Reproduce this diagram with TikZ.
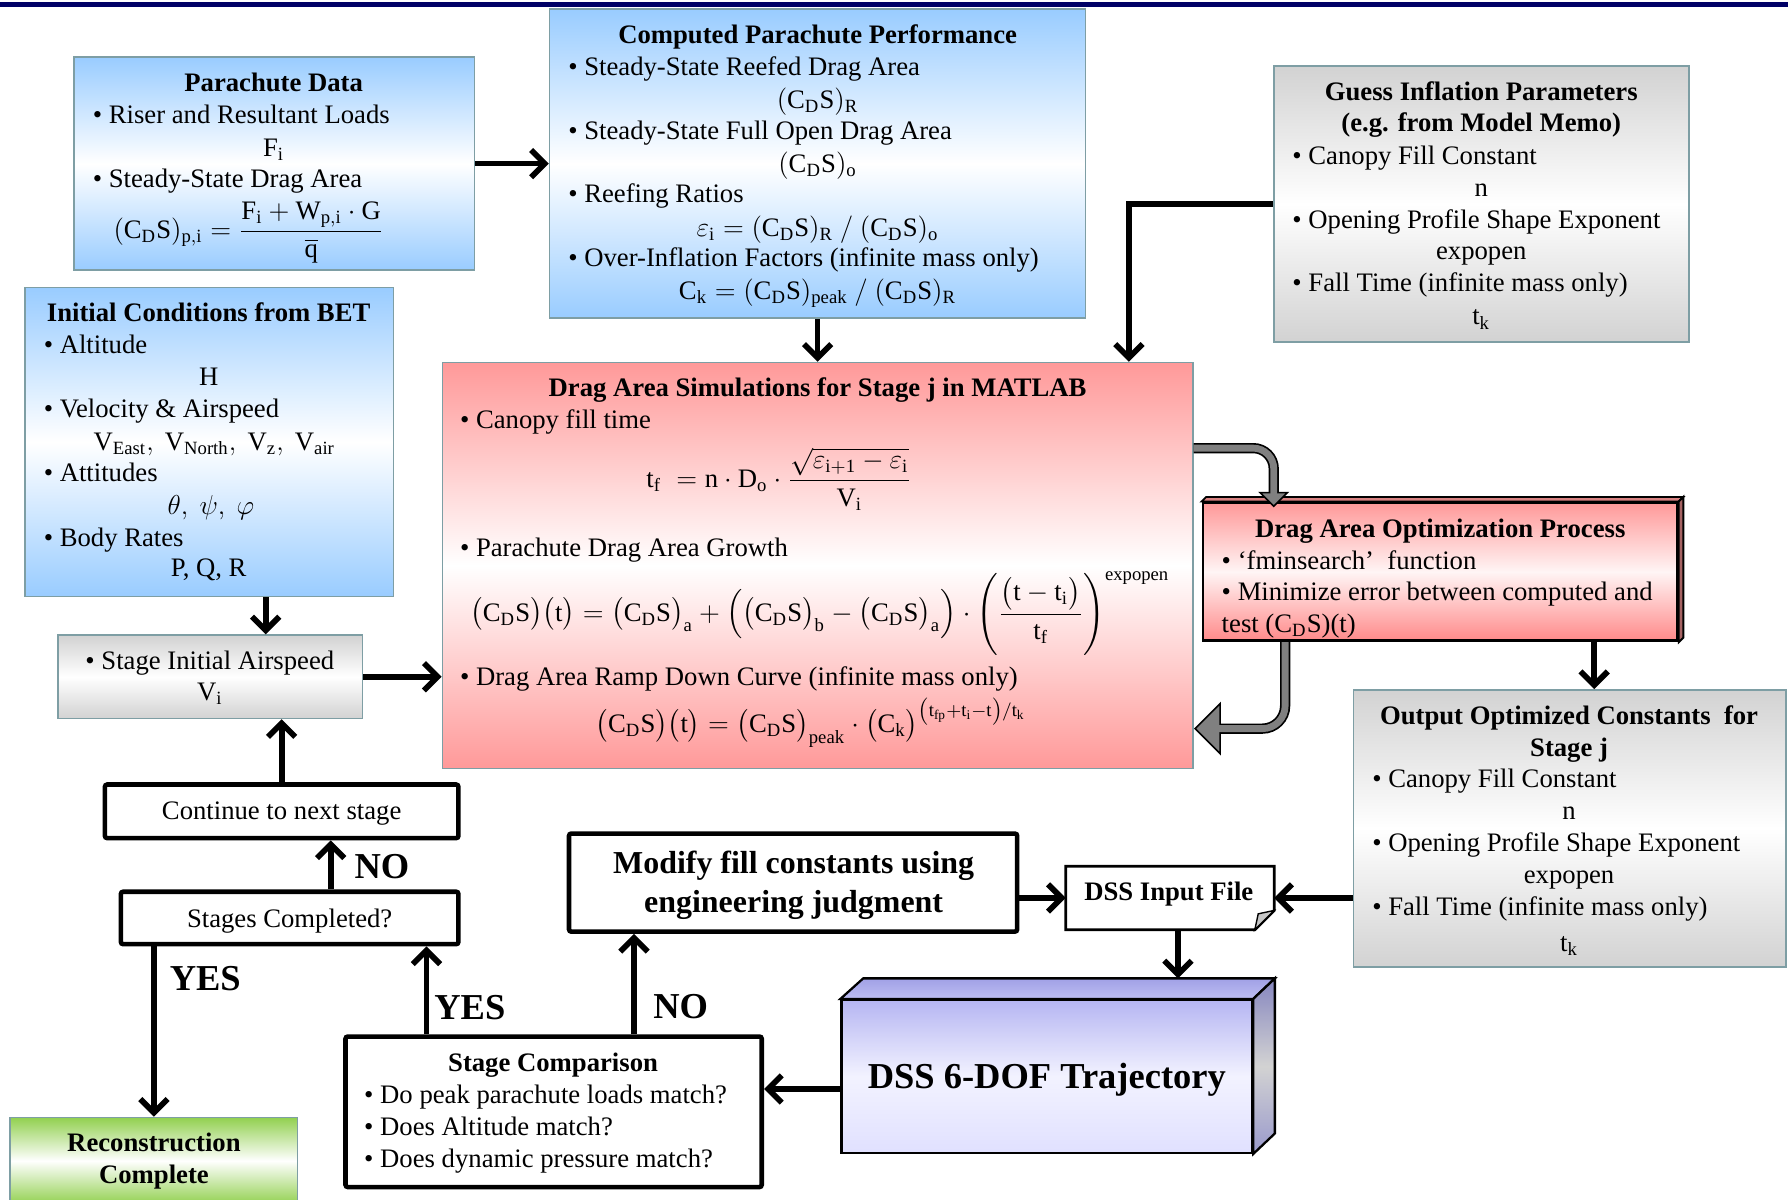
\documentclass[tikz,border=0pt]{standalone}
\usepackage{amsmath}
\usepackage{fontspec}
\setmainfont{Liberation Serif}
\usetikzlibrary{arrows.meta,fit,calc}
\definecolor{navy}{HTML}{000066}
\definecolor{bluef}{HTML}{99CCFF}
\definecolor{grayf}{HTML}{D2D2D2}
\definecolor{redf}{HTML}{FF9999}
\definecolor{greenf}{HTML}{92D050}
\definecolor{edgec}{HTML}{7E9EA4}
\definecolor{blockg}{HTML}{808080}
\newcommand\fs{\fontsize{11.7}{14}\selectfont}
\newcommand\fsbig{\fontsize{14}{17}\selectfont}
\newcommand\fshuge{\fontsize{16}{19}\selectfont}
\newcommand\CDS{(\mathrm{C_DS})}
\newcommand\bCDS{\bigl(\mathrm{C_DS}\bigr)}
\tikzset{
  panel/.style={inner sep=0pt, draw=edgec, line width=0.7pt},
  bluebox/.style={panel, top color=bluef, bottom color=bluef, middle color=white},
  graybox/.style={panel, top color=grayf, bottom color=grayf, middle color=white},
  redbox/.style={panel, top color=redf, bottom color=redf, middle color=white},
  greenbox/.style={panel, top color=greenf, bottom color=greenf, middle color=white},
  whitebox/.style={inner sep=0pt, draw=black, line width=2pt, fill=white, rounded corners=1pt},
  tl/.style={anchor=base west, inner sep=0pt, font=\fs},
  tc/.style={anchor=base, inner sep=0pt, font=\fs},
  th/.style={anchor=base, inner sep=0pt, font=\fs\bfseries},
  fm/.style={anchor=center, inner sep=0pt, font=\fs},
  arr/.style={line width=2.5pt, -{Straight Barb[length=6pt,width=12pt]}},
  lbl/.style={font=\fshuge\bfseries, inner sep=0pt},
}
\begin{document}
\begin{tikzpicture}[x=0.5pt,y=-0.5pt]
\useasboundingbox (0,0) rectangle (1568,1052);
\fill[navy] (0,1.5) rectangle (1568,6);

% ---------- Parachute Data
\node[bluebox, fit={(65,50)(416,237)}] (pd) {};
\node[th] (pdT) at (240,80) {Parachute Data};
\node[tl] (pd1) at (81,108) {•~Riser and Resultant Loads};
\node[tc] (pd2) at (240,137) {$\mathrm{F_i}$};
\node[tl] (pd3) at (81,164) {•~Steady-State Drag Area};
\node[fm] (pd4) at (218,204) {$\CDS_{\mathrm{p,i}} = \dfrac{\mathrm{F_i} + \mathrm{W_{p,i}}\cdot\mathrm{G}}{\overline{\mathrm{q}}}$};

% ---------- Computed Parachute Performance
\node[bluebox, fit={(482,8)(952,279)}] (cpp) {};
\node[th] (cppT) at (717,38) {Computed Parachute Performance};
\node[tl] (cpp1) at (498,66) {•~Steady-State Reefed Drag Area};
\node[tc] (cpp2) at (717,95) {$\CDS_{\mathrm{R}}$};
\node[tl] (cpp3) at (498,122) {•~Steady-State Full Open Drag Area};
\node[tc] (cpp4) at (717,151) {$\CDS_{\mathrm{o}}$};
\node[tl] (cpp5) at (498,178) {•~Reefing Ratios};
\node[tc] (cpp6) at (717,207) {$\varepsilon_{\mathrm{i}} = \CDS_{\mathrm{R}}\ /\ \CDS_{\mathrm{o}}$};
\node[tl] (cpp7) at (498,234) {•~Over-Inflation Factors (infinite mass only)};
\node[tc] (cpp8) at (717,263) {$\mathrm{C_k} = \CDS_{\mathrm{peak}}\ /\ \CDS_{\mathrm{R}}$};

% ---------- Guess Inflation Parameters
\node[graybox, fit={(1117,58)(1481,300)}] (guess) {};
\node[th] (gT1) at (1299,88) {Guess Inflation Parameters};
\node[th] (gT2) at (1299,115) {(e.g. from Model Memo)};
\node[tl] (g1) at (1133,144) {•~Canopy Fill Constant};
\node[tc] (g2) at (1299,172) {n};
\node[tl] (g3) at (1133,200) {•~Opening Profile Shape Exponent};
\node[tc] (g4) at (1299,228) {expopen};
\node[tl] (g5) at (1133,256) {•~Fall Time (infinite mass only)};
\node[tc] (g6) at (1299,285) {$\mathrm{t_k}$};

% ---------- Initial Conditions from BET
\node[bluebox, fit={(22,252)(345,523)}] (ic) {};
\node[th] (icT) at (183,282) {Initial Conditions from BET};
\node[tl] (ic1) at (38,310) {•~Altitude};
\node[tc] (ic2) at (183,338) {H};
\node[tl] (ic3) at (38,366) {•~Velocity \& Airspeed};
\node[tc] (ic4) at (188,395) {$\mathrm{V_{East},\ V_{North},\ V_z,\ V_{air}}$};
\node[tl] (ic5) at (38,422) {•~Attitudes};
\node[tc] (ic6) at (185,451) {$\theta,\ \psi,\ \varphi$};
\node[tl] (ic7) at (38,479) {•~Body Rates};
\node[tc] (ic8) at (183,506) {P, Q, R};

% ---------- Stage Initial Airspeed
\node[graybox, fit={(51,557)(318,630)}] (sia) {};
\node[tc] (sia1) at (184,587) {•~Stage Initial Airspeed};
\node[tc] (sia2) at (184,614) {$\mathrm{V_i}$};

% ---------- Drag Area Simulations
\node[redbox, fit={(388,318)(1046,674)}] (ds) {};
\node[th] (dsT) at (717,348) {Drag Area Simulations for Stage j in MATLAB};
\node[tl] (ds1) at (403,376) {•~Canopy fill time};
\node[fm] (ds2) at (683,420) {$\mathrm{t_f} \;= \mathrm{n}\cdot\mathrm{D_o}\cdot\dfrac{\sqrt{\varepsilon_{\mathrm{i+1}}-\varepsilon_{\mathrm{i}}}}{\mathrm{V_i}}$};
\node[tl] (ds3) at (403,488) {•~Parachute Drag Area Growth};
\node[fm] (ds4) at (719,538) {$\bCDS\bigl(\mathrm{t}\bigr)= \bCDS_{\mathrm{a}} + \Bigl(\bCDS_{\mathrm{b}} - \bCDS_{\mathrm{a}}\Bigr)\cdot\left(\dfrac{\bigl(\mathrm{t}-\mathrm{t_i}\bigr)}{\mathrm{t_f}}\right)^{\mathrm{expopen}}$};
\node[tl] (ds5) at (403,601) {•~Drag Area Ramp Down Curve (infinite mass only)};
\node[fm] (ds6) at (711,634) {$\bCDS\bigl(\mathrm{t}\bigr)= \bCDS_{\mathrm{peak}}\cdot\bigl(\mathrm{C_k}\bigr)^{\left(\mathrm{t_{fp}}+\mathrm{t_i}-\mathrm{t}\right)/\mathrm{t_k}}$};

% ---------- Drag Area Optimization Process
\node[inner sep=0pt, draw=black, line width=1.2pt, top color=redf, bottom color=redf!90!red, middle color=red!4, fit={(1055,441)(1471,562)}] (opt) {};
\filldraw[fill=redf!85!black, draw=black, line width=0.8pt] (opt.north west) -- ++(4,-4) -- ($(opt.north east)+(4,-4)$) -- (opt.north east) -- cycle;
\filldraw[fill=redf!65!black, draw=black, line width=0.8pt] (opt.north east) -- ++(4,-4) -- ($(opt.south east)+(4,-4)$) -- (opt.south east) -- cycle;
\node[th] (optT) at (1263,471) {Drag Area Optimization Process};
\node[tl] (opt1) at (1071,499) {•~‘fminsearch’~ function};
\node[tl] (opt2) at (1071,527) {•~Minimize error between computed and};
\node[tl] (opt3) at (1071,555) {test (C\textsubscript{D}S)(t)};

% ---------- Output Optimized Constants
\node[graybox, fit={(1187,605)(1566,848)}] (out) {};
\node[th] (outT1) at (1376,635) {Output Optimized Constants\ \ for};
\node[th] (outT2) at (1376,663) {Stage j};
\node[tl] (out1) at (1203,691) {•~Canopy Fill Constant};
\node[tc] (out2) at (1376,719) {n};
\node[tl] (out3) at (1203,747) {•~Opening Profile Shape Exponent};
\node[tc] (out4) at (1376,775) {expopen};
\node[tl] (out5) at (1203,803) {•~Fall Time (infinite mass only)};
\node[tc] (out6) at (1376,834) {$\mathrm{t_k}$};

% ---------- left flow boxes
\node[whitebox, fit={(92,688)(402,735)}] (cont) {};
\node[tc] (contT) at (247,719) {Continue to next stage};
\node[whitebox, fit={(106,782)(402,828)}] (stc) {};
\node[tc] (stcT) at (254,813) {Stages Completed?};
\node[greenbox, fit={(9,980)(261,1056)}] (rc) {};
\node[th] (rcT1) at (135,1010) {Reconstruction};
\node[th] (rcT2) at (135,1038) {Complete};

% ---------- Stage Comparison
\node[whitebox, fit={(303,909)(668,1041)}] (cmp) {};
\node[th] (cmpT) at (485,940) {Stage Comparison};
\node[tl] (cmp1) at (319,968) {•~Do peak parachute loads match?};
\node[tl] (cmp2) at (319,996) {•~Does Altitude match?};
\node[tl] (cmp3) at (319,1024) {•~Does dynamic pressure match?};

% ---------- Modify
\node[whitebox, fit={(499,731)(892,817)}] (mod) {};
\node[anchor=base, inner sep=0pt, font=\fsbig\bfseries] (modT1) at (696,766) {Modify fill constants using};
\node[anchor=base, inner sep=0pt, font=\fsbig\bfseries] (modT2) at (696,800) {engineering judgment};

% ---------- DSS Input File
\node[inner sep=0pt, fit={(935,760)(1117,815)}] (dssin) {};
\filldraw[fill=white, draw=black, line width=1.2pt] (dssin.north west) -- (dssin.north east) -- ($(dssin.south east)+(0,-17)$) -- ($(dssin.south east)+(-17,0)$) -- (dssin.south west) -- cycle;
\filldraw[fill=gray!45, draw=black, line width=0.6pt] ($(dssin.south east)+(0,-17)$) -- ($(dssin.south east)+(-17,0)$) -- ($(dssin.south east)+(-14,-14)$) -- cycle;
\node[th] (dssinT) at (1025,790) {DSS Input File};

% ---------- DSS 6-DOF Trajectory (cube)
\node[inner sep=0pt, draw=black, line width=1pt, top color=blue!25!white!95!black, bottom color=blue!12!white, middle color=blue!5!white, fit={(738,877)(1098,1011)}] (dss) {};
\filldraw[draw=black, line width=1pt, top color=blue!30!white!90!black, bottom color=blue!22!white!95!black] (dss.north west) -- (757,858) -- (1118,858) -- (dss.north east) -- cycle;
\filldraw[draw=black, line width=1pt, top color=blue!30!white!75!black, bottom color=blue!25!white!80!black, middle color=gray!35] (dss.north east) -- (1118,858) -- (1118,994) -- (dss.south east) -- cycle;
\node[anchor=base, inner sep=0pt, font=\fshuge\bfseries] (dssT) at (918,955) {DSS 6-DOF Trajectory};

% ---------- coordinates for connectors
\coordinate (gx) at (990,0);
\coordinate (icx) at (233,0);
\coordinate (ncx) at (290,0);
\coordinate (y1x) at (374,0);
\coordinate (n1x) at (556,0);
\coordinate (dsstop) at (1033,858);
\coordinate (dy) at (0,955);
\coordinate (ox) at (1398,0);

% ---------- connectors
\draw[arr] (pd.east) -- (pd.east -| cpp.west);
\draw[arr] (cpp.south) -- (cpp.south |- ds.north);
\draw[arr] (guess.west) -| (gx |- ds.north);
\draw[arr] (ic.south -| icx) -- (sia.north -| icx);
\draw[arr] (sia.east) -- (sia.east -| ds.west);
\draw[arr] (cont.north) -- (cont.north |- sia.south);
\draw[arr] (stc.north -| ncx) -- (cont.south -| ncx);
\draw[arr] (stc.south -| rc.north) -- (rc.north);
\draw[arr] (cmp.north -| y1x) -- (stc.south -| y1x);
\draw[arr] (cmp.north -| n1x) -- (mod.south -| n1x);
\draw[arr] (dssin.west -| mod.east) -- (dssin.west);
\draw[arr] (dssin.east -| out.west) -- (dssin.east);
\draw[arr] (dssin.south -| dsstop) -- (dsstop);
\draw[arr] (dss.west |- dy) -- (cmp.east |- dy);
\draw[arr] (opt.south -| ox) -- (out.north -| ox);

% ---------- labels
\node[lbl] (noA) at (335,760) {NO};
\node[lbl] (yesA) at (180,858) {YES};
\node[lbl] (yesB) at (412,884) {YES};
\node[lbl] (noB) at (597,883) {NO};

% ---------- gray block arrows
\coordinate (u1) at (1117,393);
\coordinate (u2) at (1117,434);
\draw[black, line width=4.5pt, rounded corners=9pt] (ds.east |- u1) -- (u1) -- (u2);
\filldraw[fill=blockg, draw=black, line width=0.7pt] (1105,432) -- (1129,432) -- (1117,444) -- cycle;
\draw[blockg, line width=3pt, rounded corners=9pt] (ds.east |- u1) -- (u1) -- (1117,435);

\coordinate (l1) at (1127,639);
\coordinate (l2) at (1069,639);
\draw[black, line width=4.5pt, rounded corners=10pt] (opt.south -| l1) -- (l1) -- (l2);
\filldraw[fill=blockg, draw=black, line width=0.7pt] (1070,617) -- (1070,661) -- (1048,639) -- cycle;
\draw[blockg, line width=3pt, rounded corners=10pt] (opt.south -| l1) -- (l1) -- (1067,639);
\end{tikzpicture}
\end{document}
